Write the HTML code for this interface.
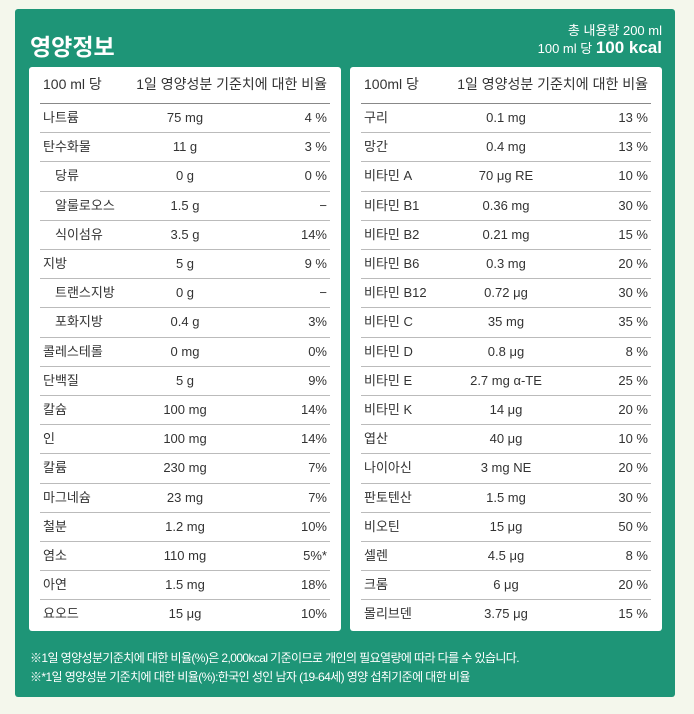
<!DOCTYPE html>
<html><head><meta charset="utf-8"><style>
body{margin:0;width:694px;height:714px;background:#f4f7ec;font-family:"Liberation Sans","Noto Sans CJK KR",sans-serif;position:relative;overflow:hidden}
#panel{position:absolute;left:15px;top:9px;width:660px;height:688px;background:#1e9577;border-radius:3px}
.title{position:absolute;left:30px;top:28px;color:#fff;font-size:23px;font-weight:bold}
.hr{position:absolute;right:32px;color:#fff;text-align:right;font-size:13px}
.tbl{position:absolute;top:67px;width:312px;height:564px;background:#fff;border-radius:3px}
.row{position:absolute;left:11px;right:11px;height:29.2px;border-bottom:1px solid #bbb;font-size:13px;color:#333;line-height:29.2px}
.row.h{height:36px;line-height:34px;border-bottom:1.5px solid #888;font-size:14px}
.row:last-child{border-bottom:none}
.n{position:absolute;left:3px}.n.i{left:15px}
.a{position:absolute;left:50%;width:120px;margin-left:-60px;text-align:center}
.p{position:absolute;right:3px}
.foot{position:absolute;left:30px;color:#fff;font-size:12px;letter-spacing:-0.6px}
</style></head><body>
<div id="panel"></div>
<div class="title">영양정보</div>
<div class="hr" style="top:20px">총 내용량 200 ml</div>
<div class="hr" style="top:38px">100 ml 당 <b style="font-size:17px">100 kcal</b></div>
<div class="tbl" id="L" style="left:29px"></div>
<div class="tbl" id="R" style="left:350px"></div>
<div class="foot" style="top:649px">※1일 영양성분기준치에 대한 비율(%)은 2,000kcal 기준이므로 개인의 필요열량에 따라 다를 수 있습니다.</div>
<div class="foot" style="top:668px">※*1일 영양성분 기준치에 대한 비율(%):한국인 성인 남자 (19-64세) 영양 섭취기준에 대한 비율</div>
<script>
const leftRows=[["나트륨","75 mg","4 %",0],["탄수화물","11 g","3 %",0],["당류","0 g","0 %",1],["알룰로오스","1.5 g","−",1],["식이섬유","3.5 g","14%",1],["지방","5 g","9 %",0],["트랜스지방","0 g","−",1],["포화지방","0.4 g","3%",1],["콜레스테롤","0 mg","0%",0],["단백질","5 g","9%",0],["칼슘","100 mg","14%",0],["인","100 mg","14%",0],["칼륨","230 mg","7%",0],["마그네슘","23 mg","7%",0],["철분","1.2 mg","10%",0],["염소","110 mg","5%*",0],["아연","1.5 mg","18%",0],["요오드","15 μg","10%",0]];
const rightRows=[["구리","0.1 mg","13 %"],["망간","0.4 mg","13 %"],["비타민 A","70 μg RE","10 %"],["비타민 B1","0.36 mg","30 %"],["비타민 B2","0.21 mg","15 %"],["비타민 B6","0.3 mg","20 %"],["비타민 B12","0.72 μg","30 %"],["비타민 C","35 mg","35 %"],["비타민 D","0.8 μg","8 %"],["비타민 E","2.7 mg α-TE","25 %"],["비타민 K","14 μg","20 %"],["엽산","40 μg","10 %"],["나이아신","3 mg NE","20 %"],["판토텐산","1.5 mg","30 %"],["비오틴","15 μg","50 %"],["셀렌","4.5 μg","8 %"],["크롬","6 μg","20 %"],["몰리브덴","3.75 μg","15 %"]];
function build(id,rows,hdr){
 const t=document.getElementById(id);
 const h=document.createElement('div');h.className='row h';h.style.top='0px';
 
 
 h.innerHTML='<span class="n">'+hdr+'</span><span class="p">1일 영양성분 기준치에 대한 비율</span>';
 t.appendChild(h);
 rows.forEach((r,i)=>{
  const d=document.createElement('div');d.className='row';d.style.top=(36+i*29.2)+'px';
  
  
  d.innerHTML='<span class="n'+(r[3]?' i':'')+'">'+r[0]+'</span><span class="a">'+r[1]+'</span><span class="p">'+r[2]+'</span>';
  t.appendChild(d);
 });
}
build('L',leftRows,'100 ml 당');
build('R',rightRows,'100ml 당');
</script>
</body></html>
